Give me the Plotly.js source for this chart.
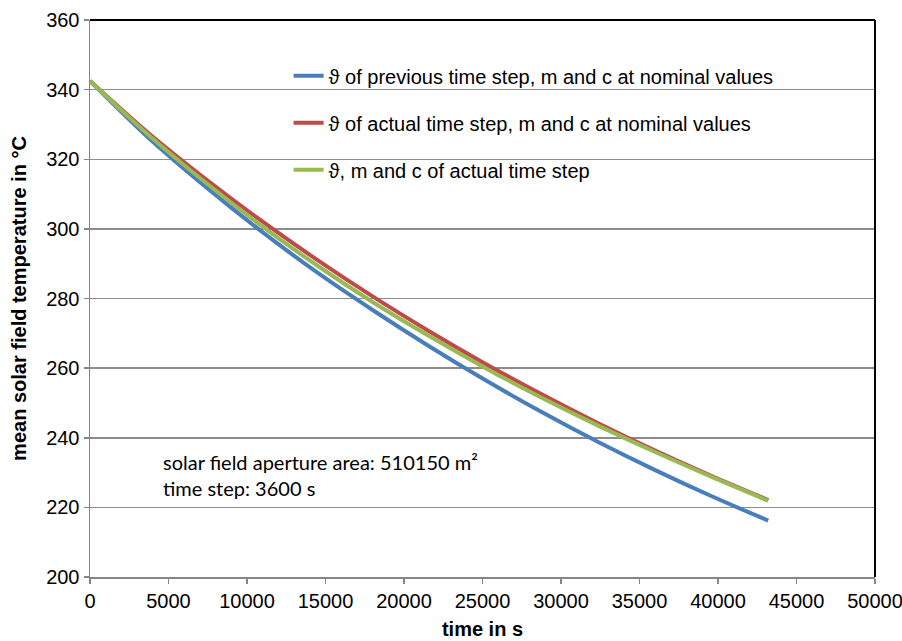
<!DOCTYPE html>
<html>
<head>
<meta charset="utf-8">
<script src="https://cdn.plot.ly/plotly-3.0.1.min.js"></script>
<style>html,body{margin:0;padding:0;background:#fff;}#chart{width:902px;height:641px;}</style>
</head>
<body>
<div id="chart"></div>
<script>
const timeS = [0, 3600, 7200, 10800, 14400, 18000, 21600, 25200, 28800, 32400, 36000, 39600, 43200];
const tempPrevNominal = [342.5, 326.7, 312.7, 299.7, 287.7, 276.7, 266.3, 256.5, 247.3, 238.7, 230.7, 223.2, 216.2];
const tempActualNominal = [342.5, 328.0, 314.9, 302.7, 291.3, 280.6, 270.6, 261.2, 252.4, 244.1, 236.3, 229.0, 222.1];
const tempActualAll = [342.5, 327.5, 313.9, 301.3, 289.7, 279.0, 269.2, 260.0, 251.4, 243.4, 235.9, 228.75, 221.9];
const seriesNames = [
  "ϑ of previous time step, m and c at nominal values",
  "ϑ of actual time step, m and c at nominal values",
  "ϑ, m and c of actual time step"
];
const seriesColors = ["#4a7ebb", "#be4b48", "#98b954"];
const xTickVals = [0, 5000, 10000, 15000, 20000, 25000, 30000, 35000, 40000, 45000, 50000];
const yTickVals = [200, 220, 240, 260, 280, 300, 320, 340, 360];
const noteLines = ["solar field aperture area: 510150 m²", "time step: 3600 s"];

const seriesData = [tempPrevNominal, tempActualNominal, tempActualAll];
const traces = seriesData.map((ys, i) => ({
  x: timeS, y: ys, type: "scatter", mode: "lines", name: seriesNames[i],
  legendgroup: "g" + i,
  line: {color: seriesColors[i], width: 4, shape: "spline", smoothing: 0.8}
}));

const font = "Liberation Sans";
const layout = {
  width: 902, height: 641,
  margin: {l: 90, r: 27, t: 20, b: 64},
  paper_bgcolor: "#ffffff", plot_bgcolor: "#ffffff",
  font: {family: font, size: 20, color: "#000000"},
  showlegend: true,
  legend: {
    x: 0.253, y: 0.935, xanchor: "left", yanchor: "top",
    bgcolor: "rgba(0,0,0,0)", borderwidth: 0,
    traceorder: "grouped", tracegroupgap: 18,
    font: {family: font, size: 20, color: "#000000"}
  },
  xaxis: {
    range: [0, 50000], tickvals: xTickVals, ticktext: xTickVals.map(String),
    showgrid: false, zeroline: false,
    showline: true, linecolor: "#868686", linewidth: 1.5,
    ticks: "outside", ticklen: 5, tickcolor: "#868686", tickwidth: 1.5,
    ticklabeloverflow: "allow",
    tickfont: {family: font, size: 20, color: "#000000"},
    title: {text: "<b>time in s</b>", font: {family: font, size: 20, color: "#000000"}, standoff: 11}
  },
  yaxis: {
    range: [200, 360], tickvals: yTickVals, ticktext: yTickVals.map(String),
    showgrid: true, gridcolor: "#8c8c8c", gridwidth: 1.5, zeroline: false,
    showline: true, linecolor: "#868686", linewidth: 1.5,
    ticks: "outside", ticklen: 5, tickcolor: "#868686", tickwidth: 1.5,
    ticklabeloverflow: "allow",
    tickfont: {family: font, size: 20, color: "#000000"},
    title: {text: "<b>mean solar field temperature in °C</b>", font: {family: font, size: 20, color: "#000000"}, standoff: 14}
  },
  shapes: [
    {type: "line", xref: "paper", yref: "paper", x0: 0, x1: 1, y0: 1, y1: 1, line: {color: "#000000", width: 2}},
    {type: "line", xref: "paper", yref: "paper", x0: 1, x1: 1, y0: 0, y1: 1, line: {color: "#000000", width: 2}}
  ],
  annotations: [{
    xref: "paper", yref: "paper", x: 0.091, y: 0.183, xanchor: "left", yanchor: "middle",
    align: "left", showarrow: false,
    text: noteLines.join("<br>"),
    font: {family: "Lato", size: 20, color: "#000000"}
  }]
};

Plotly.newPlot("chart", traces, layout, {displayModeBar: false, staticPlot: true});
</script>
</body>
</html>
